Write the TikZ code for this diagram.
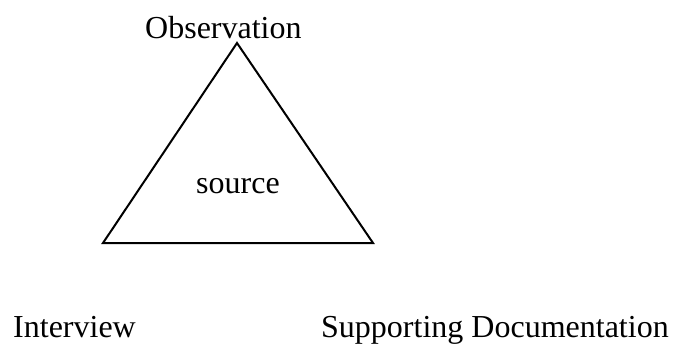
\documentclass[tikz,border=0pt]{standalone}
\usepackage{fontspec}
\setmainfont{Liberation Serif}
\begin{document}
\begin{tikzpicture}[x=1pt,y=-1pt,
  lbl/.style={inner sep=0pt,anchor=base west,font=\fontsize{32}{38}\selectfont},
  tri/.style={draw=black,line width=2pt,line join=miter}]
\useasboundingbox[fill=white] (0,0) rectangle (676,345);
\coordinate (apex) at (237,43);
\coordinate (bl) at (103,243);
\coordinate (br) at (373,243);
\draw[tri] (apex) -- (bl) -- (br) -- cycle;
\node[lbl] (obs) at (145,38) {Observation};
\node[lbl] (src) at (196,193) {source};
\node[lbl] (int) at (13,337) {Interview};
\node[lbl] (doc) at (321,337) {Supporting Documentation};
\end{tikzpicture}
\end{document}
